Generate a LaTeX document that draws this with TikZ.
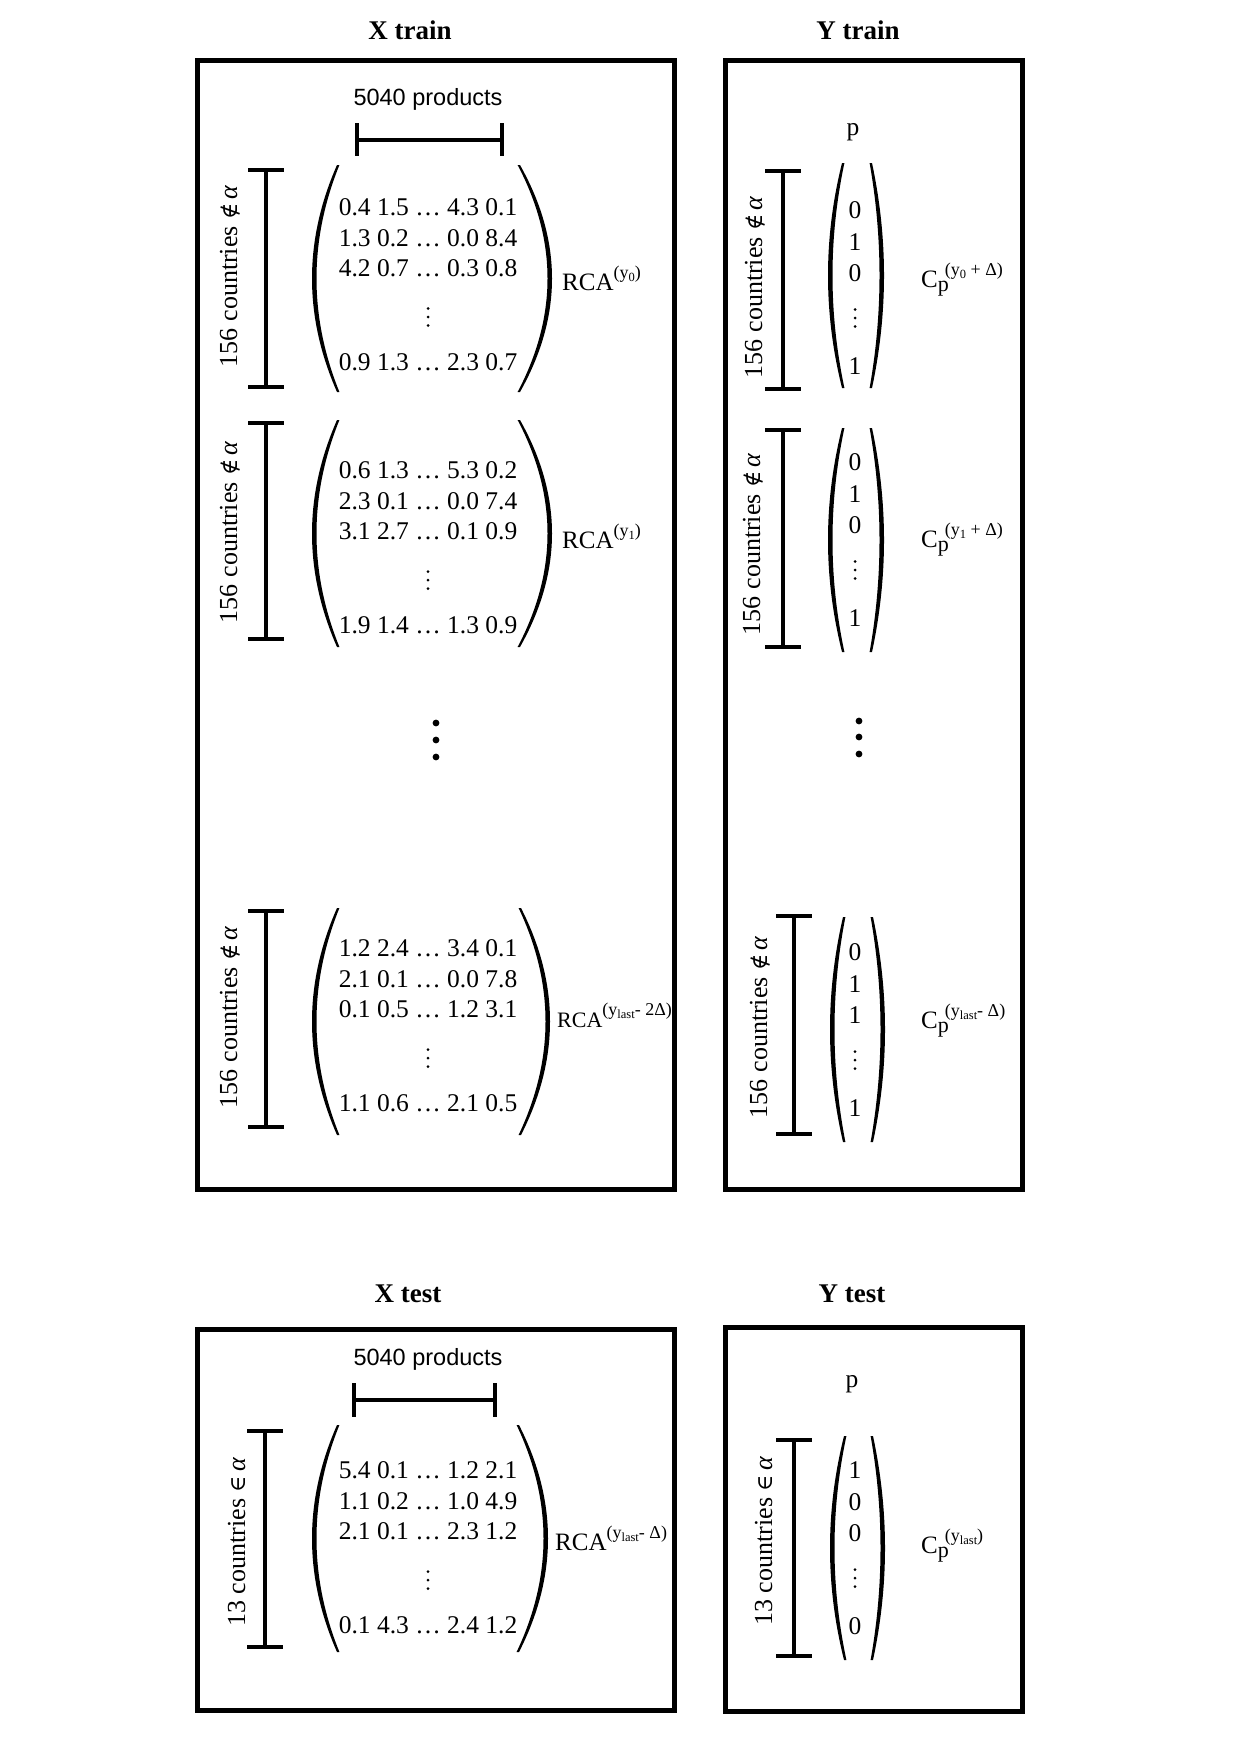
\documentclass[tikz,border=0pt]{standalone}
\usepackage{fontspec}
\setmainfont{Liberation Serif}
\newfontfamily\arialf{Liberation Sans}
\newfontfamily\symf{DejaVu Serif}
\newcommand{\upr}[1]{\raisebox{12pt}{\fontsize{18}{18}\selectfont #1}}
\newcommand{\lwr}[1]{\raisebox{-3pt}{\fontsize{12.5}{12.5}\selectfont #1}}
\newcommand{\cpsub}{\makebox[7pt][l]{\raisebox{-4pt}{\fontsize{22}{22}\selectfont p}}}
\newcommand{\notinalpha}{{\symf\fontsize{22}{22}\selectfont ∉}\,\textit{α}}
\newcommand{\inalpha}{{\symf\fontsize{22}{22}\selectfont ∈}\,\textit{α}}
\tikzset{
  boxframe/.style={line width=5pt},
  titletext/.style={font=\fontsize{27}{27}\selectfont\bfseries, anchor=base, inner sep=0},
  prodtext/.style={font=\arialf\fontsize{23.5}{24}\selectfont, anchor=base, inner sep=0},
  entry/.style={font=\fontsize{25.5}{25.5}\selectfont, anchor=base, inner sep=0},
  rotlabel/.style={font=\fontsize{26}{26}\selectfont, anchor=base, rotate=90, inner sep=0},
  sidelabel/.style={font=\fontsize{25}{25}\selectfont, anchor=base west, inner sep=0},
  barline/.style={line width=4pt},
}
% small vertical dots centred at (#1,#2)
\newcommand{\smalldots}[2]{%
  \fill (#1,{#2-8.5}) circle (1.5pt) (#1,#2) circle (1.5pt) (#1,{#2+8.5}) circle (1.5pt);}
% paren: #1 x top/bottom, #2 y top, #3 y bottom, #4 x bulge, #5 inward offset sign
\newcommand{\parenshape}[5]{%
  \pgfmathsetmacro{\cA}{(8*#4-2*#1)/6}%
  \pgfmathsetmacro{\hA}{(#3-#2)/3}%
  \pgfmathsetmacro{\yA}{#2+\hA}%
  \pgfmathsetmacro{\yB}{#3-\hA}%
  \pgfmathsetmacro{\xE}{#1+#5*2.4}%
  \pgfmathsetmacro{\cB}{\cA+#5*5.2}%
  \fill (#1,#2) .. controls (\cA,\yA) and (\cA,\yB) .. (#1,#3) -- (\xE,#3) .. controls (\cB,\yB) and (\cB,\yA) .. (\xE,#2) -- cycle;}
% vertical bracket: #1 x, #2 top, #3 bottom, #4 tick half width
\newcommand{\vbracket}[4]{%
  \draw[barline] ({#1-#4},#2) -- ({#1+#4},#2) (#1,#2) -- (#1,#3) ({#1-#4},#3) -- ({#1+#4},#3);}
% X matrix rows: #1 name, #2 y of first row centre, #3..#6 rows
\newcommand{\xrows}[6]{%
  \node[entry] (#1r1) at (428,{#2+8.5}) {#3};
  \node[entry] (#1r2) at (428,{#2+39.5}) {#4};
  \node[entry] (#1r3) at (428,{#2+69.5}) {#5};
  \smalldots{428}{#2+110}
  \node[entry] (#1r4) at (428,{#2+163.5}) {#6};}
% Y column entries
\newcommand{\yrows}[6]{%
  \node[entry] (#1e1) at (855,{#2+8.5}) {#3};
  \node[entry] (#1e2) at (855,{#2+40.5}) {#4};
  \node[entry] (#1e3) at (855,{#2+71.5}) {#5};
  \smalldots{855}{#2+108}
  \node[entry] (#1e4) at (855,{#2+164.5}) {#6};}
\begin{document}
\begin{tikzpicture}[x=1pt,y=-1pt]
\useasboundingbox (0,0) rectangle (1240,1753);
\fill[white] (0,0) rectangle (1240,1753);

% ---------- frames ----------
\draw[boxframe] (197,61) rectangle (674,1189);
\draw[boxframe] (725,61) rectangle (1022,1189);
\draw[boxframe] (197,1329) rectangle (674,1710);
\draw[boxframe] (725,1327) rectangle (1022,1711);

% ---------- titles ----------
\node[titletext] (xtrain) at (410,40) {X train};
\node[titletext] (ytrain) at (858,40) {Y train};
\node[titletext] (xtest) at (408,1302) {X test};
\node[titletext] (ytest) at (852,1302) {Y test};

% ---------- X train ----------
\node[prodtext] (prod1) at (428,105) {5040 products};
\draw[barline] (357,123) -- (357,156) (357,140) -- (502,140) (502,123) -- (502,156);

% block 1
\vbracket{266}{170}{387}{18}
\node[rotlabel] (lab1) at (237,276) {156 countries \notinalpha};
\parenshape{337}{165}{392}{312}{1}
\parenshape{520}{165}{392}{552}{-1}
\xrows{ma}{207}{0.4 1.5 … 4.3 0.1}{1.3 0.2 … 0.0 8.4}{4.2 0.7 … 0.3 0.8}{0.9 1.3 … 2.3 0.7}
\node[sidelabel] (rca1) at (562,290) {RCA\upr{(y\lwr{0})}};

% block 2
\vbracket{266}{423}{639}{18}
\node[rotlabel] (lab2) at (237,532) {156 countries \notinalpha};
\parenshape{337}{420}{647}{312}{1}
\parenshape{520}{420}{647}{552}{-1}
\xrows{mb}{470}{0.6 1.3 … 5.3 0.2}{2.3 0.1 … 0.0 7.4}{3.1 2.7 … 0.1 0.9}{1.9 1.4 … 1.3 0.9}
\node[sidelabel] (rca2) at (562,548) {RCA\upr{(y\lwr{1})}};

% big dots
\fill (436,723) circle (3.4pt);
\fill (436,740) circle (3.4pt);
\fill (436,757) circle (3.4pt);

% block 3
\vbracket{266}{911}{1127}{18}
\node[rotlabel] (lab3) at (237,1017) {156 countries \notinalpha};
\parenshape{337}{908}{1135}{312}{1}
\parenshape{521}{908}{1135}{550}{-1}
\xrows{mc}{948}{1.2 2.4 … 3.4 0.1}{2.1 0.1 … 0.0 7.8}{0.1 0.5 … 1.2 3.1}{1.1 0.6 … 2.1 0.5}
\node[sidelabel, font=\fontsize{22}{22}\selectfont] (rca3) at (557,1027) {RCA\upr{(y\lwr{last}- 2Δ)}};

% ---------- Y train ----------
\node[entry] (p1) at (853,135) {p};

\vbracket{783}{171}{389}{18}
\node[rotlabel] (ylab1) at (762,287) {156 countries \notinalpha};
\parenshape{842}{163}{388}{828}{1}
\parenshape{872}{163}{388}{884}{-1}
\yrows{ya}{210}{0}{1}{0}{1}
\node[sidelabel] (c1) at (921,287) {C\cpsub\upr{(y\lwr{0} + Δ)}};

\vbracket{783}{430}{647}{18}
\node[rotlabel] (ylab2) at (760,544) {156 countries \notinalpha};
\parenshape{842}{428}{652}{828}{1}
\parenshape{872}{428}{652}{884}{-1}
\yrows{yb}{462}{0}{1}{0}{1}
\node[sidelabel] (c2) at (921,547) {C\cpsub\upr{(y\lwr{1} + Δ)}};

\fill (859,721) circle (3.4pt);
\fill (859,737) circle (3.4pt);
\fill (859,754) circle (3.4pt);

\vbracket{794}{916}{1134}{18}
\node[rotlabel] (ylab3) at (767,1027) {156 countries \notinalpha};
\parenshape{843}{917}{1142}{830}{1}
\parenshape{873}{917}{1142}{885}{-1}
\yrows{yc}{952}{0}{1}{1}{1}
\node[sidelabel] (c3) at (921,1028) {C\cpsub\upr{(y\lwr{last}- Δ)}};

% ---------- X test ----------
\node[prodtext] (prod2) at (428,1365) {5040 products};
\draw[barline] (354,1383) -- (354,1417) (354,1400) -- (495,1400) (495,1383) -- (495,1417);
\vbracket{265}{1431}{1647}{18}
\node[rotlabel] (lab4) at (245,1542) {13 countries \inalpha};
\parenshape{337}{1425}{1652}{312}{1}
\parenshape{519}{1425}{1652}{548}{-1}
\xrows{md}{1470}{5.4 0.1 … 1.2 2.1}{1.1 0.2 … 1.0 4.9}{2.1 0.1 … 2.3 1.2}{0.1 4.3 … 2.4 1.2}
\node[sidelabel] (rca4) at (555,1550) {RCA\upr{(y\lwr{last}- Δ)}};

% ---------- Y test ----------
\node[entry] (p2) at (852,1387) {p};
\vbracket{794}{1440}{1656}{18}
\node[rotlabel] (ylab4) at (772,1541) {13 countries \inalpha};
\parenshape{844}{1436}{1660}{830}{1}
\parenshape{873}{1436}{1660}{885}{-1}
\yrows{yd}{1470}{1}{0}{0}{0}
\node[sidelabel] (c4) at (921,1553) {C\cpsub\upr{(y\lwr{last})}};
\end{tikzpicture}
\end{document}
